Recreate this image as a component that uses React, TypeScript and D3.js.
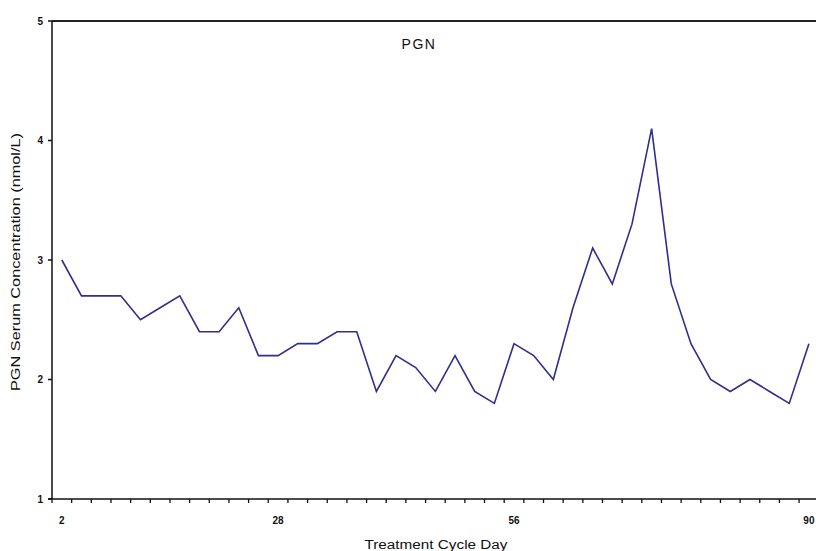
import { useEffect, useRef } from 'react';
import * as d3 from 'd3';

// One sample per visit
const visits = d3.range(1, 40).map((v) => `V${v}`);
const pgnValues = [
  3.0, 2.7, 2.7, 2.7, 2.5, 2.6, 2.7, 2.4, 2.4, 2.6,
  2.2, 2.2, 2.3, 2.3, 2.4, 2.4, 1.9, 2.2, 2.1, 1.9,
  2.2, 1.9, 1.8, 2.3, 2.2, 2.0, 2.6, 3.1, 2.8, 3.3,
  4.1, 2.8, 2.3, 2.0, 1.9, 2.0, 1.9, 1.8, 2.3,
];
// Day labels shown under the axis, with the visit they sit under
const dayLabels = ['2', '28', '56', '90'];
const dayLabelVisits = ['V1', 'V12', 'V24', 'V39'];
const yTicks = [1, 2, 3, 4, 5];

const App = () => {
  const svgRef = useRef<SVGSVGElement>(null);

  useEffect(() => {
    const svg = d3.select(svgRef.current);
    svg.selectAll('*').remove();

    const left = 52;
    const top = 21;
    const bottom = 499;
    const bandW = 19.66;
    const right = left + bandW * visits.length;

    const x = d3.scaleBand().domain(visits).range([left, right]);
    const y = d3.scaleLinear().domain([1, 5]).range([bottom, top]);

    const font = 'Arial, "Liberation Sans", sans-serif';

    // Top frame line
    svg
      .append('line')
      .attr('x1', left)
      .attr('x2', 816)
      .attr('y1', top)
      .attr('y2', top)
      .attr('stroke', '#222')
      .attr('stroke-width', 2);

    // Y axis
    svg
      .append('line')
      .attr('x1', left)
      .attr('x2', left)
      .attr('y1', top)
      .attr('y2', bottom)
      .attr('stroke', '#111')
      .attr('stroke-width', 1.5);

    yTicks.forEach((t) => {
      svg
        .append('line')
        .attr('x1', left - 4)
        .attr('x2', left)
        .attr('y1', y(t))
        .attr('y2', y(t))
        .attr('stroke', '#111')
        .attr('stroke-width', 1.5);
      svg
        .append('text')
        .attr('x', left - 9)
        .attr('y', y(t) + 3.5)
        .attr('text-anchor', 'end')
        .attr('font-family', font)
        .attr('font-size', '10px')
        .attr('font-weight', 'bold')
        .attr('fill', '#111')
        .text(t);
    });

    // X axis
    svg
      .append('line')
      .attr('x1', left - 4)
      .attr('x2', 816)
      .attr('y1', bottom)
      .attr('y2', bottom)
      .attr('stroke', '#111')
      .attr('stroke-width', 1.5);

    visits.forEach((v) => {
      const bx = x(v)!;
      svg
        .append('line')
        .attr('x1', bx)
        .attr('x2', bx)
        .attr('y1', bottom)
        .attr('y2', bottom + 4)
        .attr('stroke', '#111')
        .attr('stroke-width', 1.3);
    });

    dayLabels.forEach((lab, i) => {
      svg
        .append('text')
        .attr('x', x(dayLabelVisits[i])! + x.bandwidth() / 2)
        .attr('y', bottom + 25)
        .attr('text-anchor', 'middle')
        .attr('font-family', font)
        .attr('font-size', '10px')
        .attr('font-weight', 'bold')
        .attr('fill', '#111')
        .text(lab);
    });

    // Series line
    const line = d3
      .line<number>()
      .x((_, i) => x(visits[i])! + x.bandwidth() / 2)
      .y((d) => y(d));

    svg
      .append('path')
      .datum(pgnValues)
      .attr('fill', 'none')
      .attr('stroke', '#2f2f8c')
      .attr('stroke-width', 1.6)
      .attr('stroke-linejoin', 'miter')
      .attr('d', line);

    // Title
    svg
      .append('text')
      .attr('x', 419)
      .attr('y', 49)
      .attr('text-anchor', 'middle')
      .attr('font-family', font)
      .attr('font-size', '14px')
      .attr('letter-spacing', '1.5px')
      .attr('fill', '#111')
      .text('PGN');

    // Axis titles
    svg
      .append('text')
      .attr('transform', 'rotate(-90)')
      .attr('x', -262)
      .attr('y', 20)
      .attr('text-anchor', 'middle')
      .attr('font-family', font)
      .attr('font-size', '12px')
      .attr('fill', '#111')
      .attr('textLength', 258)
      .attr('lengthAdjust', 'spacingAndGlyphs')
      .text('PGN Serum Concentration (nmol/L)');

    svg
      .append('text')
      .attr('x', 436)
      .attr('y', 549)
      .attr('text-anchor', 'middle')
      .attr('font-family', font)
      .attr('font-size', '12px')
      .attr('fill', '#111')
      .attr('textLength', 143)
      .attr('lengthAdjust', 'spacingAndGlyphs')
      .text('Treatment Cycle Day');
  }, []);

  return (
    <svg
      ref={svgRef}
      width={816}
      height={551}
      style={{ position: 'absolute', left: 0, top: 0, background: '#fff' }}
    />
  );
};

export default App;
